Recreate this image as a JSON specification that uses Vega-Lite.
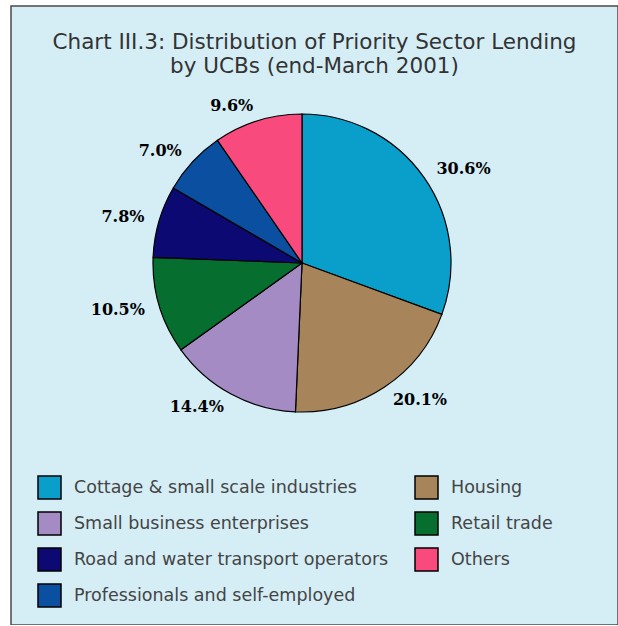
{
  "$schema": "https://vega.github.io/schema/vega-lite/v6.json",
  "width": 607,
  "height": 619,
  "autosize": {"type": "none"},
  "padding": {"left": 11, "top": 6, "right": 0, "bottom": 0},
  "background": "white",
  "view": {"fill": "#d5eef6", "stroke": "#4a4a4a", "strokeWidth": 1.5},
  "title": {
    "text": ["Chart III.3: Distribution of Priority Sector Lending", "by UCBs (end-March 2001)"],
    "font": "DejaVu Sans",
    "fontSize": 21.5,
    "fontWeight": "normal",
    "color": "#333333",
    "anchor": "middle",
    "offset": -71,
    "lineHeight": 24
  },
  "data": {
    "values": [
      {"sector": "Cottage & small scale industries", "pct": 30.6, "ord": 1},
      {"sector": "Housing", "pct": 20.1, "ord": 2},
      {"sector": "Small business enterprises", "pct": 14.4, "ord": 3},
      {"sector": "Retail trade", "pct": 10.5, "ord": 4},
      {"sector": "Road and water transport operators", "pct": 7.8, "ord": 5},
      {"sector": "Professionals and self-employed", "pct": 7.0, "ord": 6},
      {"sector": "Others", "pct": 9.6, "ord": 7}
    ]
  },
  "transform": [{"calculate": "format(datum.pct, '.1f') + '%'", "as": "label"}],
  "encoding": {
    "theta": {"field": "pct", "type": "quantitative", "stack": true},
    "order": {"field": "ord", "type": "quantitative", "sort": "ascending"}
  },
  "layer": [
    {
      "mark": {"type": "arc", "radius": 149, "x": 291, "y": 257, "stroke": "black", "strokeWidth": 1.2},
      "encoding": {
        "color": {
          "field": "sector",
          "type": "nominal",
          "scale": {
            "domain": [
              "Cottage & small scale industries",
              "Small business enterprises",
              "Road and water transport operators",
              "Professionals and self-employed",
              "Housing",
              "Retail trade",
              "Others"
            ],
            "range": ["#0a9fca", "#a48bc4", "#0c0a72", "#0a4fa0", "#a8845a", "#066e2e", "#f84a7c"]
          },
          "legend": {
            "title": null,
            "orient": "none",
            "legendX": 26,
            "legendY": 469,
            "columns": 2,
            "columnPadding": 23,
            "rowPadding": 7,
            "padding": 0,
            "symbolType": "square",
            "symbolSize": 529,
            "symbolStrokeColor": "black",
            "symbolStrokeWidth": 1.5,
            "symbolOpacity": 1,
            "labelFont": "DejaVu Sans",
            "labelFontSize": 17.5,
            "labelColor": "#444444",
            "labelOffset": 12,
            "labelLimit": 400
          }
        }
      }
    },
    {
      "mark": {"type": "text", "radius": 164, "x": 291, "y": 257, "font": "DejaVu Serif", "fontWeight": "bold", "fontSize": 16, "color": "black", "align": {"expr": "datum.ord <= 2 ? 'left' : 'right'"}, "baseline": "middle"},
      "encoding": {
        "text": {"field": "label", "type": "nominal"}
      }
    }
  ]
}
